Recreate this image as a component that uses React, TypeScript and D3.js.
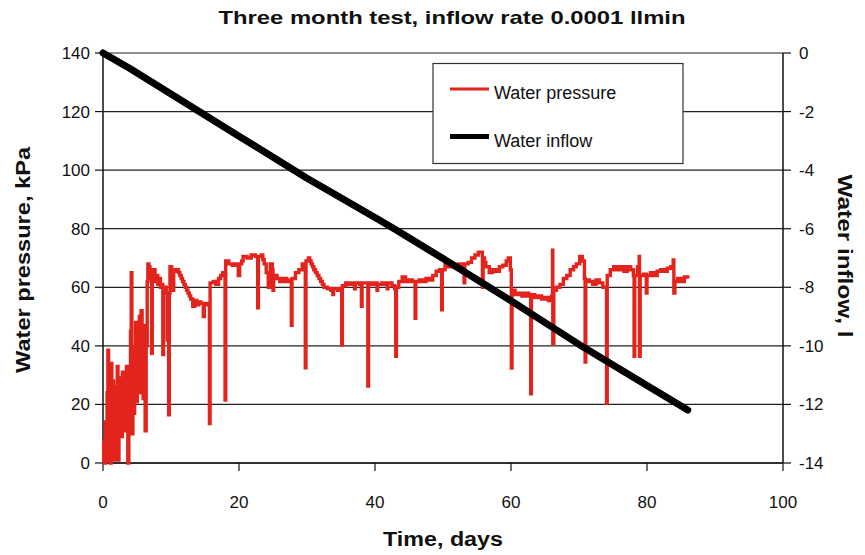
import React from "react";
import * as d3 from "d3";

const TITLE = "Three month test, inflow rate 0.0001 llmin";
const X_LABEL = "Time, days";
const Y_LEFT_LABEL = "Water pressure, kPa";
const Y_RIGHT_LABEL = "Water inflow, l";
const SERIES_NAMES = ["Water pressure", "Water inflow"];

const xTicks = [0, 20, 40, 60, 80, 100];
const leftTicks = [0, 20, 40, 60, 80, 100, 120, 140];
const rightTicks = [-14, -12, -10, -8, -6, -4, -2, 0];

// Water inflow (litres) vs time (days)
const inflow: [number, number][] = [
  [0, 0], [3.9, -0.52], [10, -1.4], [20, -2.84], [30, -4.28],
  [40, -5.62], [43, -6.03], [50, -7.02], [60, -8.46],
  [65.7, -9.31], [70, -9.95], [80, -11.35], [86, -12.19],
];

// Water pressure (kPa) vs time (days)
const pressure: [number, number][] = [
  [0, 0], [0.1, 7], [0.2, 0], [0.35, 14], [0.45, 1], [0.6, 24], [0.72, 38.5], [0.82, 3],
  [0.95, 30], [1.05, 0], [1.2, 34], [1.3, 10], [1.45, 28], [1.55, 1], [1.7, 20], [1.85, 26],
  [1.95, 8], [2.1, 33], [2.2, 1], [2.35, 29], [2.5, 12], [2.6, 27], [2.75, 9], [2.85, 31],
  [3.0, 16], [3.15, 28], [3.3, 11], [3.45, 33], [3.55, 19], [3.65, 0], [3.8, 24], [3.95, 30],
  [4.05, 45], [4.15, 65], [4.25, 10], [4.4, 39], [4.5, 17], [4.65, 33], [4.8, 48], [4.9, 21],
  [5.05, 45], [5.2, 30], [5.35, 50], [5.45, 24], [5.6, 52], [5.75, 40], [5.9, 22], [6.05, 47],
  [6.2, 11], [6.35, 40], [6.5, 62], [6.6, 68], [6.75, 67], [6.9, 66], [7.05, 63], [7.15, 37.5],
  [7.25, 64], [7.45, 66], [7.65, 62], [7.85, 64], [8.05, 61], [8.25, 63], [8.45, 60], [8.65, 61],
  [8.8, 37], [8.9, 59], [9.1, 60], [9.3, 58], [9.45, 42], [9.55, 58], [9.65, 16.5], [9.75, 58],
  [9.85, 67], [10.1, 66], [10.3, 59], [10.4, 65.5], [10.8, 66], [11.1, 65], [11.3, 64], [11.5, 63],
  [11.7, 62], [11.9, 61], [12.1, 60], [12.3, 59], [12.5, 58], [12.7, 57], [12.9, 56], [13.2, 53.5],
  [13.5, 55.5], [13.8, 54], [14.1, 55], [14.4, 54.5], [14.75, 50], [14.9, 54], [15.2, 54.5],
  [15.5, 54], [15.65, 13.5], [15.75, 61.5], [16.2, 62], [16.6, 61], [17.0, 63], [17.3, 64],
  [17.6, 65], [17.9, 65], [17.95, 21.5], [18.05, 69], [18.5, 68], [19.0, 67.5], [19.5, 68],
  [19.9, 64], [20.1, 68], [20.4, 69], [20.6, 70.5], [21.2, 70], [21.8, 71], [22.4, 70.5],
  [22.75, 53], [22.85, 70.5], [23.3, 71], [23.5, 69.5], [23.7, 68], [24.0, 65], [24.3, 60],
  [24.6, 68], [24.9, 66], [25.0, 59], [25.1, 64], [25.6, 63], [26.0, 62], [26.5, 63], [27.0, 62],
  [27.5, 62.5], [27.7, 47], [27.8, 63], [28.3, 65], [28.8, 66], [29.3, 68], [29.75, 32.5],
  [29.85, 69], [30.2, 70], [30.4, 69], [30.6, 68], [30.8, 67], [31.0, 66], [31.25, 65],
  [31.5, 64], [31.75, 63], [32.0, 62], [32.25, 61], [32.5, 60], [33.0, 59.5], [33.5, 59],
  [33.8, 57.5], [33.9, 59.5], [34.5, 59], [35.0, 59.5], [35.1, 40.3], [35.2, 60.5], [35.7, 61.5],
  [36.2, 61], [36.7, 61.5], [37.0, 59.5], [37.1, 61.5], [37.7, 61], [38.0, 53.5], [38.1, 61.5],
  [38.6, 61.5], [38.95, 26.3], [39.05, 61.5], [39.5, 61], [40.0, 61.5], [40.3, 59], [40.4, 61],
  [41.0, 61.5], [41.5, 61], [41.8, 59.5], [41.9, 61.5], [42.5, 60.5], [42.9, 59.5], [43.05, 36.4],
  [43.15, 60], [43.5, 62], [44.0, 63.5], [44.5, 62], [45.0, 62.5], [45.5, 62], [45.9, 49.4],
  [46.0, 62], [46.5, 62.5], [47.0, 62], [47.5, 63], [48.0, 62.5], [48.5, 64], [49.0, 65.5],
  [49.5, 66], [49.8, 52.3], [49.9, 66], [50.3, 68], [50.8, 67], [51.3, 67.5], [51.8, 67],
  [52.3, 68], [52.8, 67.5], [53.1, 61.5], [53.2, 68], [53.7, 68.5], [54.2, 70], [54.7, 71],
  [55.2, 72], [55.6, 72], [55.8, 60], [55.9, 70], [56.1, 68.5], [56.3, 67], [56.8, 65], [57.3, 66],
  [57.8, 65.5], [58.3, 67], [58.8, 67.5], [59.3, 69], [59.6, 70], [59.9, 66], [60.05, 32.4],
  [60.15, 59], [60.6, 57.5], [61.1, 58], [61.6, 57], [62.1, 58], [62.6, 57], [62.9, 23.6],
  [63.0, 57.5], [63.5, 56.5], [64.0, 57], [64.5, 56], [65.0, 56.5], [65.5, 55.5], [66.0, 57],
  [66.1, 72.7], [66.15, 40.8], [66.3, 59], [66.7, 60], [67.2, 61], [67.7, 63], [68.2, 64],
  [68.7, 66], [69.2, 67], [69.6, 68], [70.1, 70.5], [70.5, 69], [70.8, 63], [70.9, 34.5],
  [71.0, 62.5], [71.5, 62], [72.0, 61], [72.5, 62.5], [73.0, 61.5], [73.5, 60], [74.05, 20.4],
  [74.15, 64], [74.6, 66], [75.1, 67], [75.6, 66], [76.1, 67], [76.6, 65.5], [77.1, 67], [77.6, 66],
  [78.0, 64], [78.1, 36.4], [78.2, 64], [78.6, 67], [78.85, 70.5], [78.9, 36.4], [79.0, 64],
  [79.5, 64.5], [79.9, 58], [80.0, 64], [80.5, 65], [81.0, 64], [81.5, 65.5], [82.0, 66],
  [82.5, 65.5], [83.0, 66.5], [83.5, 67], [83.85, 69.3], [83.95, 58], [84.1, 62], [84.5, 63],
  [85.0, 62], [85.5, 63.5], [86.0, 63],
];

const FONT = "'Liberation Sans', Arial, sans-serif";
const RED = "#e2241d";
const INK = "#111";

export default function App() {
  const W = 865;
  const H = 555;
  const left = 103, right = 783, top = 53, bottom = 463;

  const x = d3.scaleLinear().domain([0, 100]).range([left, right]);
  const yL = d3.scaleLinear().domain([0, 140]).range([bottom, top]);
  const yR = d3.scaleLinear().domain([-14, 0]).range([bottom, top]);

  const pLine = d3.line<[number, number]>().x((d) => x(d[0])).y((d) => yL(d[1])).curve(d3.curveStepAfter);
  const iLine = d3.line<[number, number]>().x((d) => x(d[0])).y((d) => yR(d[1]));

  return (
    <svg width={W} height={H} style={{ position: "absolute", left: 0, top: 0, background: "#fff" }}
      fontFamily={FONT}>
      <rect x={0} y={0} width={W} height={H} fill="#fff" />
      <text x={452} y={24} textAnchor="middle" fontSize={19} fontWeight="bold" fill={INK}
        textLength={467} lengthAdjust="spacingAndGlyphs">{TITLE}</text>

      {/* gridlines */}
      {leftTicks.map((t) => (
        <line key={"g" + t} x1={left} x2={right} y1={yL(t)} y2={yL(t)} stroke="#222" strokeWidth={1.2} />
      ))}
      {/* axes */}
      <line x1={left} x2={left} y1={top} y2={bottom} stroke={INK} strokeWidth={1.5} />
      <line x1={right} x2={right} y1={top} y2={bottom} stroke={INK} strokeWidth={1.5} />
      <line x1={left} x2={right} y1={bottom} y2={bottom} stroke={INK} strokeWidth={1.5} />

      {leftTicks.map((t) => (
        <g key={"l" + t}>
          <line x1={left - 8} x2={left} y1={yL(t)} y2={yL(t)} stroke={INK} strokeWidth={1.2} />
          <text x={left - 13} y={yL(t) + 6} textAnchor="end" fontSize={17} fill={INK}>{t}</text>
        </g>
      ))}
      {rightTicks.map((t) => (
        <g key={"r" + t}>
          <line x1={right} x2={right + 8} y1={yR(t)} y2={yR(t)} stroke={INK} strokeWidth={1.2} />
          <text x={right + 16} y={yR(t) + 6} textAnchor="start" fontSize={17} fill={INK}>{t}</text>
        </g>
      ))}
      {xTicks.map((t) => (
        <g key={"x" + t}>
          <line x1={x(t)} x2={x(t)} y1={bottom} y2={bottom + 8} stroke={INK} strokeWidth={1.2} />
          <text x={x(t)} y={508} textAnchor="middle" fontSize={17} fill={INK}>{t}</text>
        </g>
      ))}

      {/* series */}
      <path d={pLine(pressure) || ""} fill="none" stroke={RED} strokeWidth={3.4} strokeLinejoin="miter" strokeMiterlimit={2} />
      <path d={iLine(inflow) || ""} fill="none" stroke="#000" strokeWidth={7} strokeLinecap="round" strokeLinejoin="round" />

      {/* axis titles */}
      <text x={443} y={546} textAnchor="middle" fontSize={20} fontWeight="bold" fill={INK}
        textLength={120} lengthAdjust="spacingAndGlyphs">{X_LABEL}</text>
      <text transform="translate(30,260) rotate(-90)" textAnchor="middle" fontSize={20} fontWeight="bold" fill={INK}
        textLength={226} lengthAdjust="spacingAndGlyphs">{Y_LEFT_LABEL}</text>
      <text transform="translate(838,256) rotate(90)" textAnchor="middle" fontSize={20} fontWeight="bold" fill={INK}
        textLength={163} lengthAdjust="spacingAndGlyphs">{Y_RIGHT_LABEL}</text>

      {/* legend */}
      <rect x={433} y={63.5} width={250} height={100} fill="#fff" stroke="#333" strokeWidth={1.2} />
      <line x1={450} x2={489} y1={89} y2={89} stroke={RED} strokeWidth={3} />
      <text x={494} y={98.5} fontSize={18} fill={INK}>{SERIES_NAMES[0]}</text>
      <line x1={450} x2={489} y1={136.5} y2={136.5} stroke="#000" strokeWidth={5} />
      <text x={494} y={146.5} fontSize={18} fill={INK}>{SERIES_NAMES[1]}</text>
    </svg>
  );
}
